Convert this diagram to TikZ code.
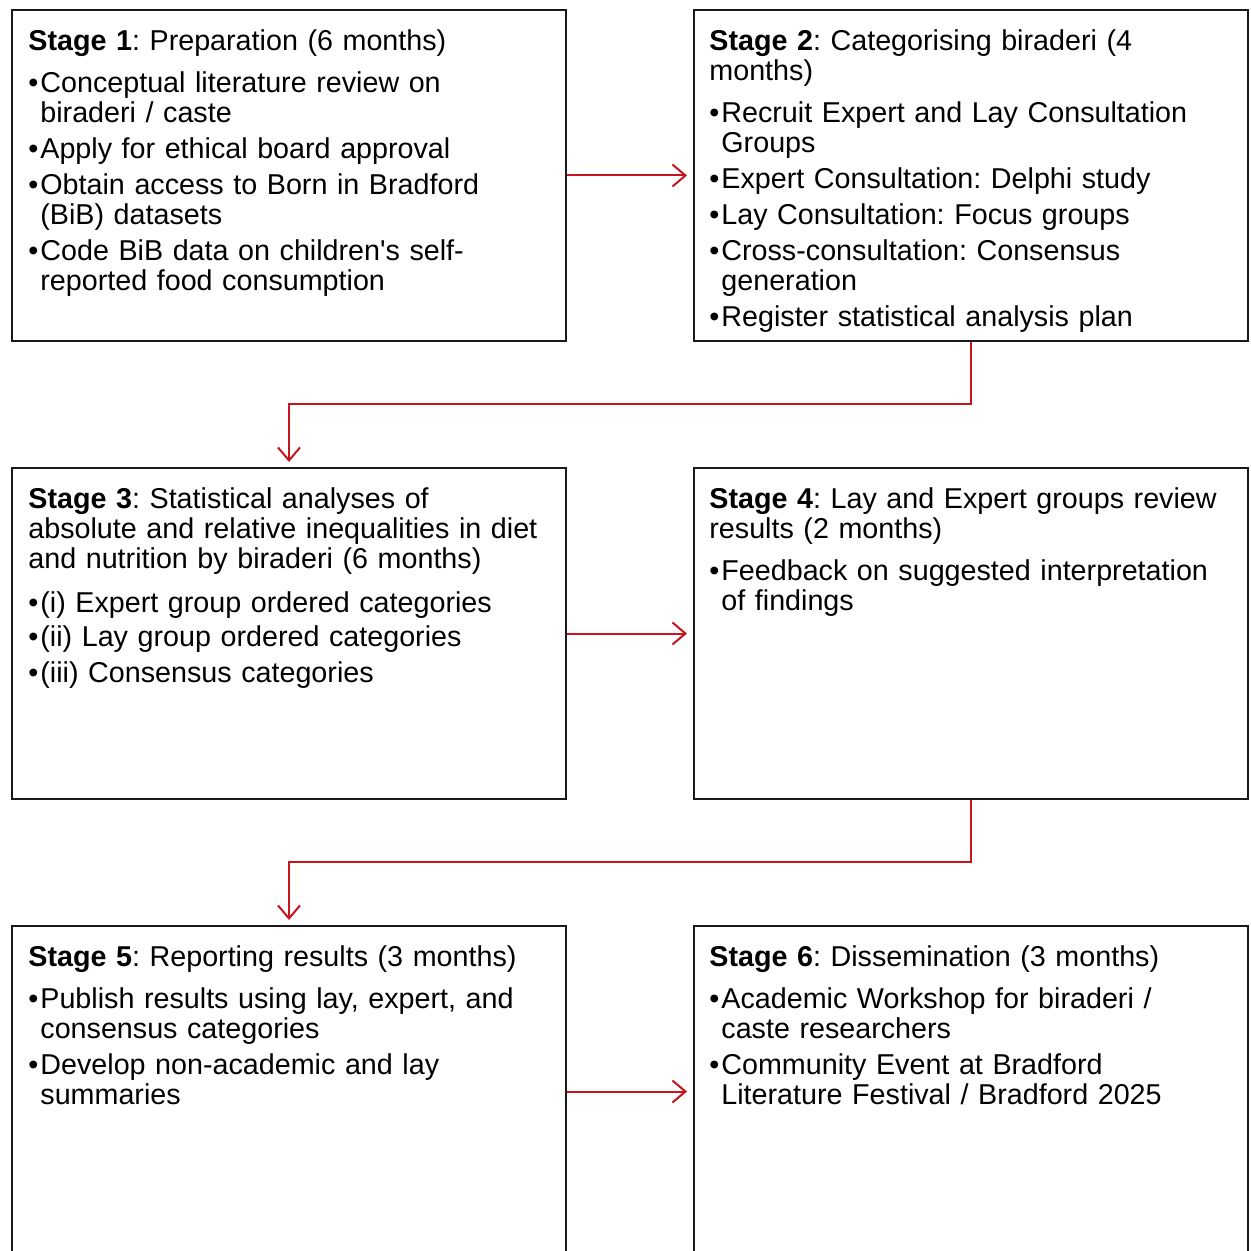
\documentclass[tikz,border=0pt]{standalone}
\usepackage{fontspec}
\setmainfont{Liberation Sans}
\usetikzlibrary{arrows.meta}
\definecolor{arrowred}{RGB}{200,20,30}
\definecolor{boxline}{RGB}{25,25,25}
\newcommand{\bul}{\makebox[6pt][l]{•}}
\newcommand{\ind}{\hspace*{6pt}}
\frenchspacing
\tikzset{
  stagebox/.style={draw=boxline, line width=1pt, fill=none, anchor=north west,
    minimum width=277pt, minimum height=165.5pt, inner sep=0pt},
  stagetext/.style={anchor=north west, inner sep=0pt, align=left, text width=265pt,
    font=\fontsize{14.35pt}{15pt}\selectfont},
  conn/.style={draw=arrowred, line width=1pt, -{Straight Barb[length=6.5pt,width=11pt,line width=1pt]}, shorten >=3pt}
}
\begin{document}
\begin{tikzpicture}[x=0.5pt,y=-0.5pt]
\path[use as bounding box, clip] (0,0) rectangle (1251,1251);
\fill[white] (0,0) rectangle (1251,1251);
% boxes
\node (s1) [stagebox] at (11,9) {};
\node (s2) [stagebox] at (693,9) {};
\node (s3) [stagebox] at (11,467) {};
\node (s4) [stagebox] at (693,467) {};
\node (s5) [stagebox] at (11,925) {};
\node (s6) [stagebox] at (693,925) {};
% texts
\node (t1) [stagetext] at (28,29) {\textbf{Stage 1}: Preparation (6 months)\\[6pt]
\bul Conceptual literature review on\\
\ind biraderi / caste\\[3pt]
\bul Apply for ethical board approval\\[3pt]
\bul Obtain access to Born in Bradford\\
\ind (BiB) datasets\\[3pt]
\bul Code BiB data on children\textquotesingle s self-\\
\ind reported food consumption};
\node (t2) [stagetext] at (709,29) {\textbf{Stage 2}: Categorising biraderi (4\\
months)\\[6pt]
\bul Recruit Expert and Lay Consultation\\
\ind Groups\\[3pt]
\bul Expert Consultation: Delphi study\\[3pt]
\bul Lay Consultation: Focus groups\\[3pt]
\bul Cross-consultation: Consensus\\
\ind generation\\[3pt]
\bul Register statistical analysis plan};
\node (t3) [stagetext] at (28,487) {\textbf{Stage 3}: Statistical analyses of\\
absolute and relative inequalities in diet\\
and nutrition by biraderi (6 months)\\[7pt]
\bul (i) Expert group ordered categories\\[2pt]
\bul (ii) Lay group ordered categories\\[3pt]
\bul (iii) Consensus categories};
\node (t4) [stagetext] at (709,487) {\textbf{Stage 4}: Lay and Expert groups review\\
results (2 months)\\[6pt]
\bul Feedback on suggested interpretation\\
\ind of findings};
\node (t5) [stagetext] at (28,945) {\textbf{Stage 5}: Reporting results (3 months)\\[6pt]
\bul Publish results using lay, expert, and\\
\ind consensus categories\\[3pt]
\bul Develop non-academic and lay\\
\ind summaries};
\node (t6) [stagetext] at (709,945) {\textbf{Stage 6}: Dissemination (3 months)\\[6pt]
\bul Academic Workshop for biraderi /\\
\ind caste researchers\\[3pt]
\bul Community Event at Bradford\\
\ind Literature Festival / Bradford 2025};
% connectors
\coordinate (k1) at (0,404);
\coordinate (k2) at (0,862);
\draw[conn] (s1.east) -- (s2.west);
\draw[conn] (s3.east) -- (s4.west);
\draw[conn] (s5.east) -- (s6.west);
\draw[conn, shorten >=2.5pt] (s2.south) |- (s3.north |- k1) -- (s3.north);
\draw[conn, shorten >=2.5pt] (s4.south) |- (s5.north |- k2) -- (s5.north);
\end{tikzpicture}
\end{document}
